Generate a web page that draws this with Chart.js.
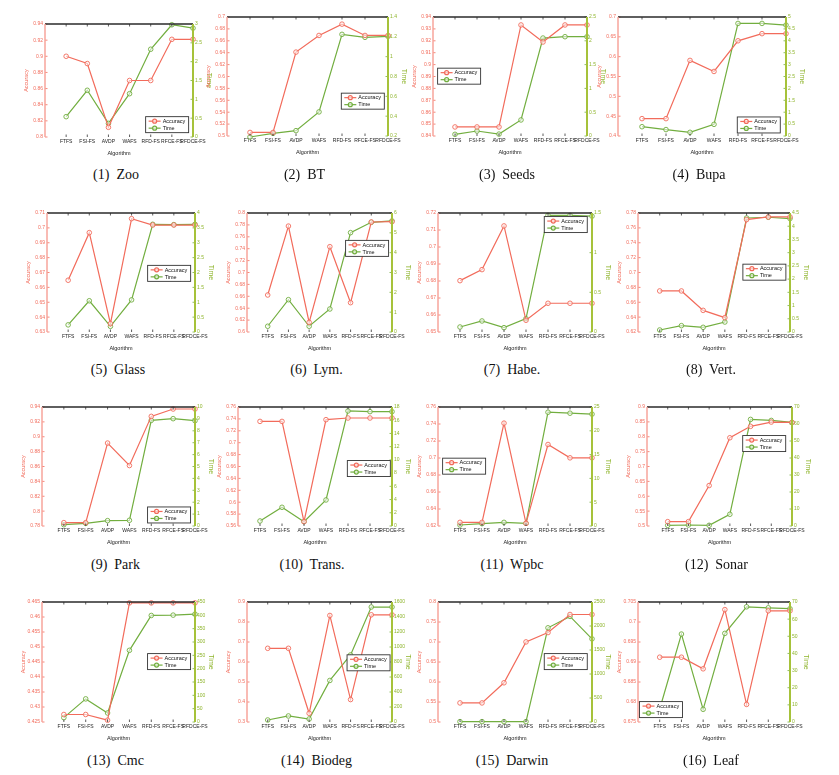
<!DOCTYPE html>
<html>
<head>
<meta charset="utf-8">
<script src="https://cdn.jsdelivr.net/npm/chart.js@4.4.0/dist/chart.umd.min.js"></script>
<style>
  body { margin: 0; background: #fff; width: 839px; height: 775px; position: relative; overflow: hidden; }
  canvas { position: absolute; }
  .cap { position: absolute; font: 14px "Liberation Serif", "Times New Roman", serif; color: #111;
         white-space: pre; line-height: 16px; transform: translateX(-50%); }
</style>
</head>
<body>
<script>
// categories (first slot is empty, as in the original axes)
const algorithms = ['', 'FTFS', 'FSI-FS', 'AVDP', 'WAFS', 'RFD-FS', 'RFCE-FS', 'RFDCE-FS'];
const datasetNames = ['Zoo', 'BT', 'Seeds', 'Bupa', 'Glass', 'Lym.', 'Habe.', 'Vert.',
                      'Park', 'Trans.', 'Wpbc', 'Sonar', 'Cmc', 'Biodeg', 'Darwin', 'Leaf'];

// accuracy per dataset, one value per algorithm
const accuracy = [
  [0.900, 0.891, 0.812, 0.870, 0.870, 0.921, 0.921],
  [0.506, 0.506, 0.641, 0.669, 0.688, 0.669, 0.669],
  [0.8476, 0.8476, 0.8476, 0.9333, 0.919, 0.9333, 0.9333],
  [0.4438, 0.4438, 0.5906, 0.5627, 0.640, 0.658, 0.658],
  [0.6648, 0.6968, 0.6356, 0.7062, 0.7019, 0.7019, 0.7019],
  [0.6622, 0.778, 0.6162, 0.7434, 0.6493, 0.7849, 0.7854],
  [0.6802, 0.6867, 0.7124, 0.6569, 0.6669, 0.6669, 0.6669],
  [0.6752, 0.6752, 0.6491, 0.6393, 0.7711, 0.7747, 0.7747],
  [0.7845, 0.7845, 0.8915, 0.8613, 0.9274, 0.9373, 0.9373],
  [0.7358, 0.7358, 0.5673, 0.7387, 0.7415, 0.7415, 0.7415],
  [0.6243, 0.6243, 0.741, 0.6231, 0.7159, 0.7002, 0.7002],
  [0.5146, 0.5146, 0.636, 0.7966, 0.835, 0.8494, 0.8483],
  [0.4275, 0.4275, 0.4256, 0.4647, 0.4647, 0.4647, 0.4647],
  [0.6685, 0.6685, 0.3435, 0.8327, 0.4122, 0.836, 0.836],
  [0.5477, 0.5477, 0.598, 0.7002, 0.7236, 0.7688, 0.7688],
  [0.6912, 0.6912, 0.6883, 0.7031, 0.6794, 0.7028, 0.7028]
];

// running time per dataset
const time = [
  [0.54, 1.24, 0.36, 1.15, 2.33, 2.98, 2.89],
  [0.19, 0.227, 0.254, 0.443, 1.225, 1.195, 1.205],
  [0.035, 0.105, 0.04, 0.337, 2.058, 2.086, 2.086],
  [0.39, 0.27, 0.155, 0.49, 4.73, 4.73, 4.66],
  [0.24, 1.05, 0.19, 1.08, 3.62, 3.61, 3.62],
  [0.29, 1.63, 0.29, 1.16, 5.01, 5.53, 5.6],
  [0.063, 0.139, 0.055, 0.168, 1.47, 1.47, 1.46],
  [0.076, 0.24, 0.177, 0.378, 4.31, 4.34, 4.29],
  [0.11, 0.22, 0.45, 0.48, 8.88, 9.02, 8.85],
  [0.76, 2.83, 0.66, 3.94, 17.4, 17.3, 17.3],
  [0.21, 0.49, 0.77, 0.56, 23.9, 23.7, 23.5],
  [0.4, 0.6, 0.4, 6.9, 62.7, 62.1, 60.9],
  [16.3, 86.7, 33.9, 268.8, 399.5, 400.8, 404.5],
  [26.8, 80.4, 40.2, 554, 894, 1533, 1533],
  [8, 8, 8, 8, 1962, 2200, 1732],
  [7.6, 51.3, 7.4, 51.7, 67.2, 66.6, 66.1]
];

// tick ranges [min, max, step]
const accTicks = [
  [0.8, 0.94, 0.02], [0.5, 0.7, 0.02], [0.84, 0.94, 0.01], [0.4, 0.7, 0.05],
  [0.63, 0.71, 0.01], [0.6, 0.8, 0.02], [0.65, 0.72, 0.01], [0.62, 0.78, 0.02],
  [0.78, 0.94, 0.02], [0.56, 0.76, 0.02], [0.62, 0.76, 0.02], [0.5, 0.9, 0.05],
  [0.425, 0.465, 0.005], [0.3, 0.9, 0.1], [0.5, 0.8, 0.05], [0.675, 0.705, 0.005]
];
const timeTicks = [
  [0, 3, 0.5], [0.2, 1.4, 0.2], [0, 2.5, 0.5], [0, 5, 0.5],
  [0, 4, 0.5], [0, 6, 1], [0, 1.5, 0.5], [0, 4.5, 0.5],
  [0, 10, 1], [0, 18, 2], [0, 25, 5], [0, 70, 10],
  [0, 450, 50], [0, 1600, 200], [0, 2500, 500], [0, 70, 10]
];

// layout: plot area [left, top, right, bottom] in page pixels
const plotBoxes = [
  [45, 24, 193, 137], [227, 17, 388, 136], [433, 17, 587, 136], [618, 17, 786, 136],
  [47, 213, 195, 332], [247, 213, 392, 332], [438, 213, 592, 332], [638, 213, 790, 332],
  [42, 407, 195, 526], [238, 407, 392, 526], [438, 407, 592, 526], [647, 407, 792, 526],
  [42, 602, 195, 722], [247, 602, 392, 722], [438, 602, 592, 722], [638, 602, 790, 722]
];
// legend top-left as fraction of plot area
const legendAt = [
  [0.68, 0.82], [0.71, 0.64], [0.03, 0.43], [0.71, 0.84],
  [0.68, 0.44], [0.68, 0.23], [0.69, 0.03], [0.69, 0.43],
  [0.69, 0.84], [0.71, 0.45], [0.03, 0.43], [0.66, 0.24],
  [0.69, 0.43], [0.69, 0.44], [0.69, 0.43], [0.01, 0.83]
];
const captionY = [175, 370, 565, 761];

const ACC = '#f26b5b';
const TIME = '#72ae3f';
const FONT = '"Liberation Sans", Arial, sans-serif';

// axes box, inward ticks
const framePlugin = {
  id: 'frame',
  afterDatasetsDraw(chart) {
    const { ctx, chartArea: a, scales } = chart;
    const seg = (x1, y1, x2, y2) => { ctx.beginPath(); ctx.moveTo(x1, y1); ctx.lineTo(x2, y2); ctx.stroke(); };
    ctx.save();
    ctx.strokeStyle = '#333'; ctx.lineWidth = 0.8;
    scales.x.ticks.forEach((t, i) => {
      if (i === 0) return;
      const x = scales.x.getPixelForTick(i);
      seg(x, a.top, x, a.top + 2.5);
      seg(x, a.bottom, x, a.bottom - 2.5);
    });
    ctx.strokeStyle = ACC;
    scales.y.ticks.forEach(t => { const y = scales.y.getPixelForValue(t.value); seg(a.left, y, a.left + 2.5, y); });
    ctx.strokeStyle = TIME;
    scales.y1.ticks.forEach(t => { const y = scales.y1.getPixelForValue(t.value); seg(a.right, y, a.right - 2.5, y); });
    ctx.strokeStyle = '#2a2a2a'; ctx.lineWidth = 1.4;
    seg(a.left, a.top, a.right, a.top);
    ctx.strokeStyle = '#f7a59b'; ctx.lineWidth = 1.5;
    seg(a.left, a.top, a.left, a.bottom);
    ctx.strokeStyle = '#a6c23a'; ctx.lineWidth = 2;
    seg(a.right, a.top, a.right, a.bottom);
    ctx.restore();
  },
  afterDraw(chart, args, opts) {
    const { ctx, chartArea: a } = chart;
    const w = 43, h = 16;
    const x = a.left + opts.at[0] * (a.right - a.left);
    const y = a.top + opts.at[1] * (a.bottom - a.top);
    ctx.save();
    ctx.fillStyle = '#fff';
    ctx.fillRect(x, y, w, h);
    ctx.strokeStyle = '#333'; ctx.lineWidth = 0.9;
    ctx.strokeRect(x, y, w, h);
    ctx.font = '5.5px ' + FONT;
    ctx.textBaseline = 'middle';
    chart.data.datasets.forEach((ds, i) => {
      const ly = y + 4.5 + i * 7;
      ctx.strokeStyle = ds.borderColor; ctx.lineWidth = 1.2;
      ctx.beginPath(); ctx.moveTo(x + 3, ly); ctx.lineTo(x + 15, ly); ctx.stroke();
      ctx.fillStyle = 'rgba(255,255,255,0.6)';
      ctx.beginPath(); ctx.arc(x + 9, ly, 2, 0, Math.PI * 2); ctx.fill(); ctx.stroke();
      ctx.fillStyle = '#111';
      ctx.fillText(ds.label, x + 17, ly + 0.3);
    });
    ctx.restore();
  }
};

const fmt = v => String(+v.toFixed(4));

datasetNames.forEach((name, k) => {
  const [l, t, r, b] = plotBoxes[k];
  const LW = 22, RW = 20, XH = 20, PT = 6;
  const canvas = document.createElement('canvas');
  canvas.width = (r - l) + LW + RW;
  canvas.height = (b - t) + PT + XH;
  canvas.style.left = (l - LW) + 'px';
  canvas.style.top = (t - PT) + 'px';
  document.body.appendChild(canvas);

  const cap = document.createElement('div');
  cap.className = 'cap';
  cap.textContent = '(' + (k + 1) + ')  ' + name;
  cap.style.left = ((l + r) / 2 - 3) + 'px';
  cap.style.top = (captionY[Math.floor(k / 4)] - 8) + 'px';
  document.body.appendChild(cap);

  const common = {
    pointRadius: 2.3, pointBorderWidth: 0.9, borderWidth: 1.2,
    pointBackgroundColor: 'rgba(255,255,255,0.55)', clip: 4, tension: 0
  };

  new Chart(canvas.getContext('2d'), {
    type: 'line',
    data: {
      labels: algorithms,
      datasets: [
        Object.assign({ label: 'Accuracy', data: [null].concat(accuracy[k]), borderColor: ACC, pointBorderColor: ACC, yAxisID: 'y' }, common),
        Object.assign({ label: 'Time', data: [null].concat(time[k]), borderColor: TIME, pointBorderColor: TIME, yAxisID: 'y1' }, common)
      ]
    },
    options: {
      responsive: false,
      animation: false,
      events: [],
      layout: { padding: { top: PT, left: 0, right: 0, bottom: 0 } },
      plugins: {
        legend: { display: false },
        tooltip: { enabled: false },
        frame: { at: legendAt[k] }
      },
      scales: {
        x: {
          offset: false,
          grid: { display: false, drawTicks: false },
          border: { display: false },
          ticks: { autoSkip: false, maxRotation: 0, minRotation: 0, padding: 2, color: '#222', font: { size: 5, family: FONT } },
          title: { display: true, text: 'Algorithm', color: '#222', padding: 0, font: { size: 5.5, family: FONT } },
          afterFit: s => { s.height = XH; }
        },
        y: {
          position: 'left',
          min: accTicks[k][0], max: accTicks[k][1],
          grid: { display: false, drawTicks: false },
          border: { display: false },
          ticks: { stepSize: accTicks[k][2], padding: 2, color: ACC, font: { size: 5, family: FONT }, callback: fmt },
          title: { display: true, text: 'Accuracy', color: ACC, padding: 0, font: { size: 5.5, family: FONT } },
          afterFit: s => { s.width = LW; }
        },
        y1: {
          position: 'right',
          min: timeTicks[k][0], max: timeTicks[k][1],
          grid: { display: false, drawTicks: false },
          border: { display: false },
          ticks: { stepSize: timeTicks[k][2], padding: 2, color: '#8fb52d', font: { size: 5, family: FONT }, callback: fmt },
          title: { display: true, text: 'Time', color: '#8fb52d', padding: 0, font: { size: 7, family: FONT } },
          afterFit: s => { s.width = RW; }
        }
      }
    },
    plugins: [framePlugin]
  });
});
</script>
</body>
</html>
